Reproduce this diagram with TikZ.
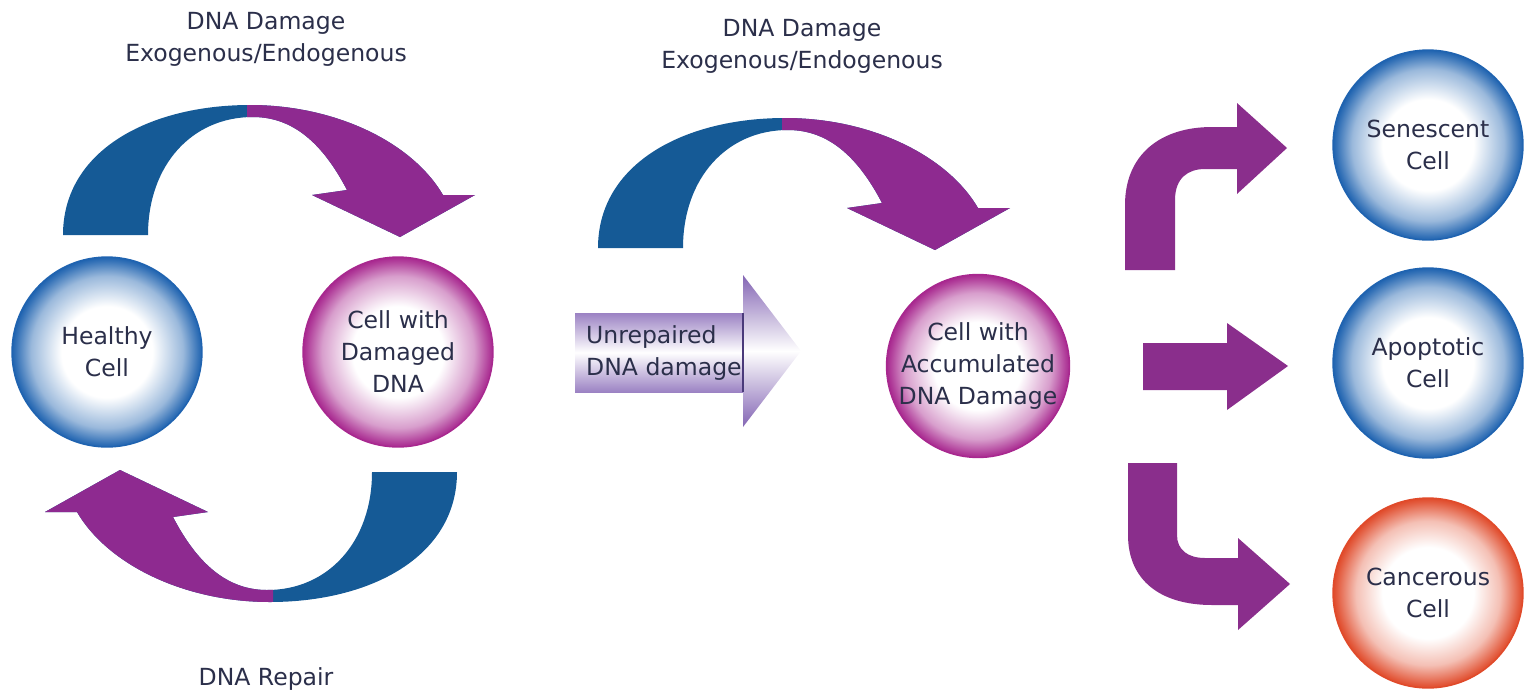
\documentclass[tikz,border=0pt]{standalone}
\usepackage{fontspec}
\setmainfont{DejaVu Sans}
\usetikzlibrary{positioning}
\definecolor{cellblue}{HTML}{1F63B0}
\definecolor{cellpink}{HTML}{A8288F}
\definecolor{cellred}{HTML}{E04A2A}
\definecolor{swblue}{HTML}{155A96}
\definecolor{swpurple}{HTML}{8E2A90}
\definecolor{fatepurple}{HTML}{8A2E8C}
\definecolor{lavender}{HTML}{9B82C3}
\definecolor{lavhead}{HTML}{8466B4}
\definecolor{lavdark}{HTML}{4A3A7A}
\definecolor{txtc}{HTML}{2B2F4A}
\pgfdeclareradialshading{blueball}{\pgfpoint{0bp}{0bp}}{color(0bp)=(white); color(12bp)=(white); color(20bp)=(cellblue!45); color(24bp)=(cellblue!90); color(25bp)=(cellblue); color(50bp)=(cellblue)}
\pgfdeclareradialshading{pinkball}{\pgfpoint{0bp}{0bp}}{color(0bp)=(white); color(12bp)=(white); color(20bp)=(cellpink!45); color(24bp)=(cellpink!90); color(25bp)=(cellpink); color(50bp)=(cellpink)}
\pgfdeclareradialshading{redball}{\pgfpoint{0bp}{0bp}}{color(0bp)=(white); color(12bp)=(white); color(19bp)=(cellred!35); color(24bp)=(cellred!90); color(25bp)=(cellred); color(50bp)=(cellred)}
\def\cellsize{3.8cm}
\def\textfont{\fontsize{13.4}{18.2}\selectfont}
\def\swooshpath{(63,235) .. controls (63,150) and (150,105) .. (250,105)
    .. controls (335,105) and (412,142) .. (443,195) -- (475,195) -- (400,237) -- (312,195) -- (347,190)
    .. controls (322,142) and (292,117) .. (253,117) .. controls (192,117) and (148,165) .. (148,235) -- cycle}
\newcommand{\swoosh}[1]{
    \begin{scope}[#1]
        \fill[swblue] \swooshpath;
        \begin{scope}
            \clip (247,0) rectangle (520,300);
            \fill[swpurple] \swooshpath;
        \end{scope}
    \end{scope}
}
\tikzset{
    cell/.style={circle, minimum size=\cellsize, inner sep=0pt, align=center, font=\textfont, text=txtc, line width=0.8pt, shade},
    bluecell/.style={cell, shading=blueball, draw=cellblue},
    pinkcell/.style={cell, shading=pinkball, draw=cellpink},
    redcell/.style={cell, shading=redball, draw=cellred},
    caption/.style={align=center, font=\textfont, text=txtc},
    unrepshade/.style={top color=#1, bottom color=#1, middle color=white},
    unrepshade/.default=lavender
}
\begin{document}
\begin{tikzpicture}[x=0.02cm, y=-0.02cm]
\useasboundingbox (0,0) rectangle (1524,690);
% repair cycle
\swoosh{}
\swoosh{shift={(520,707)}, rotate=180}
\node[bluecell] (healthy) at (107,352) {Healthy\\Cell};
\node[pinkcell] (damaged) at (398,352) {Cell with\\Damaged\\DNA};
\node[caption] (title1) at (266,39) {DNA Damage\\Exogenous/Endogenous};
\node[caption] (repair) at (266,679) {DNA Repair};
% accumulation
\swoosh{shift={(535,13)}}
\node[caption] (title2) at (802,46) {DNA Damage\\Exogenous/Endogenous};
\shade[unrepshade] (575,313) rectangle (743,392);
\shade[unrepshade=lavhead] (743,275) -- (801,351) -- (743,427) -- cycle;
\draw[lavdark, line width=1pt] (743,313) -- (743,392);
\node[caption, anchor=west, align=left] (unrep) at (580,353) {Unrepaired\\DNA damage};
\node[pinkcell, minimum size=3.66cm] (accum) at (978,366) {Cell with\\Accumulated\\DNA Damage};
% fates
\fill[fatepurple] (1125,270) -- (1125,205) .. controls (1125,155) and (1160,127) .. (1212,127) -- (1237,127) -- (1237,103)
    -- (1287,148) -- (1237,194) -- (1237,169) -- (1205,169) .. controls (1188,169) and (1175,178) .. (1175,200) -- (1175,270) -- cycle;
\fill[fatepurple] (1143,343) -- (1227,343) -- (1227,323) -- (1288,366) -- (1227,410) -- (1227,390) -- (1143,390) -- cycle;
\fill[fatepurple] (1128,463) -- (1177,463) -- (1177,535) .. controls (1177,550) and (1188,558) .. (1205,558) -- (1238,558) -- (1238,538)
    -- (1290,584) -- (1238,630) -- (1238,605) -- (1212,605) .. controls (1160,605) and (1128,580) .. (1128,535) -- cycle;
\node[bluecell] (senescent) at (1428,145) {Senescent\\Cell};
\node[bluecell] (apoptotic) at (1428,363) {Apoptotic\\Cell};
\node[redcell] (cancerous) at (1428,593) {Cancerous\\Cell};
\end{tikzpicture}
\end{document}
